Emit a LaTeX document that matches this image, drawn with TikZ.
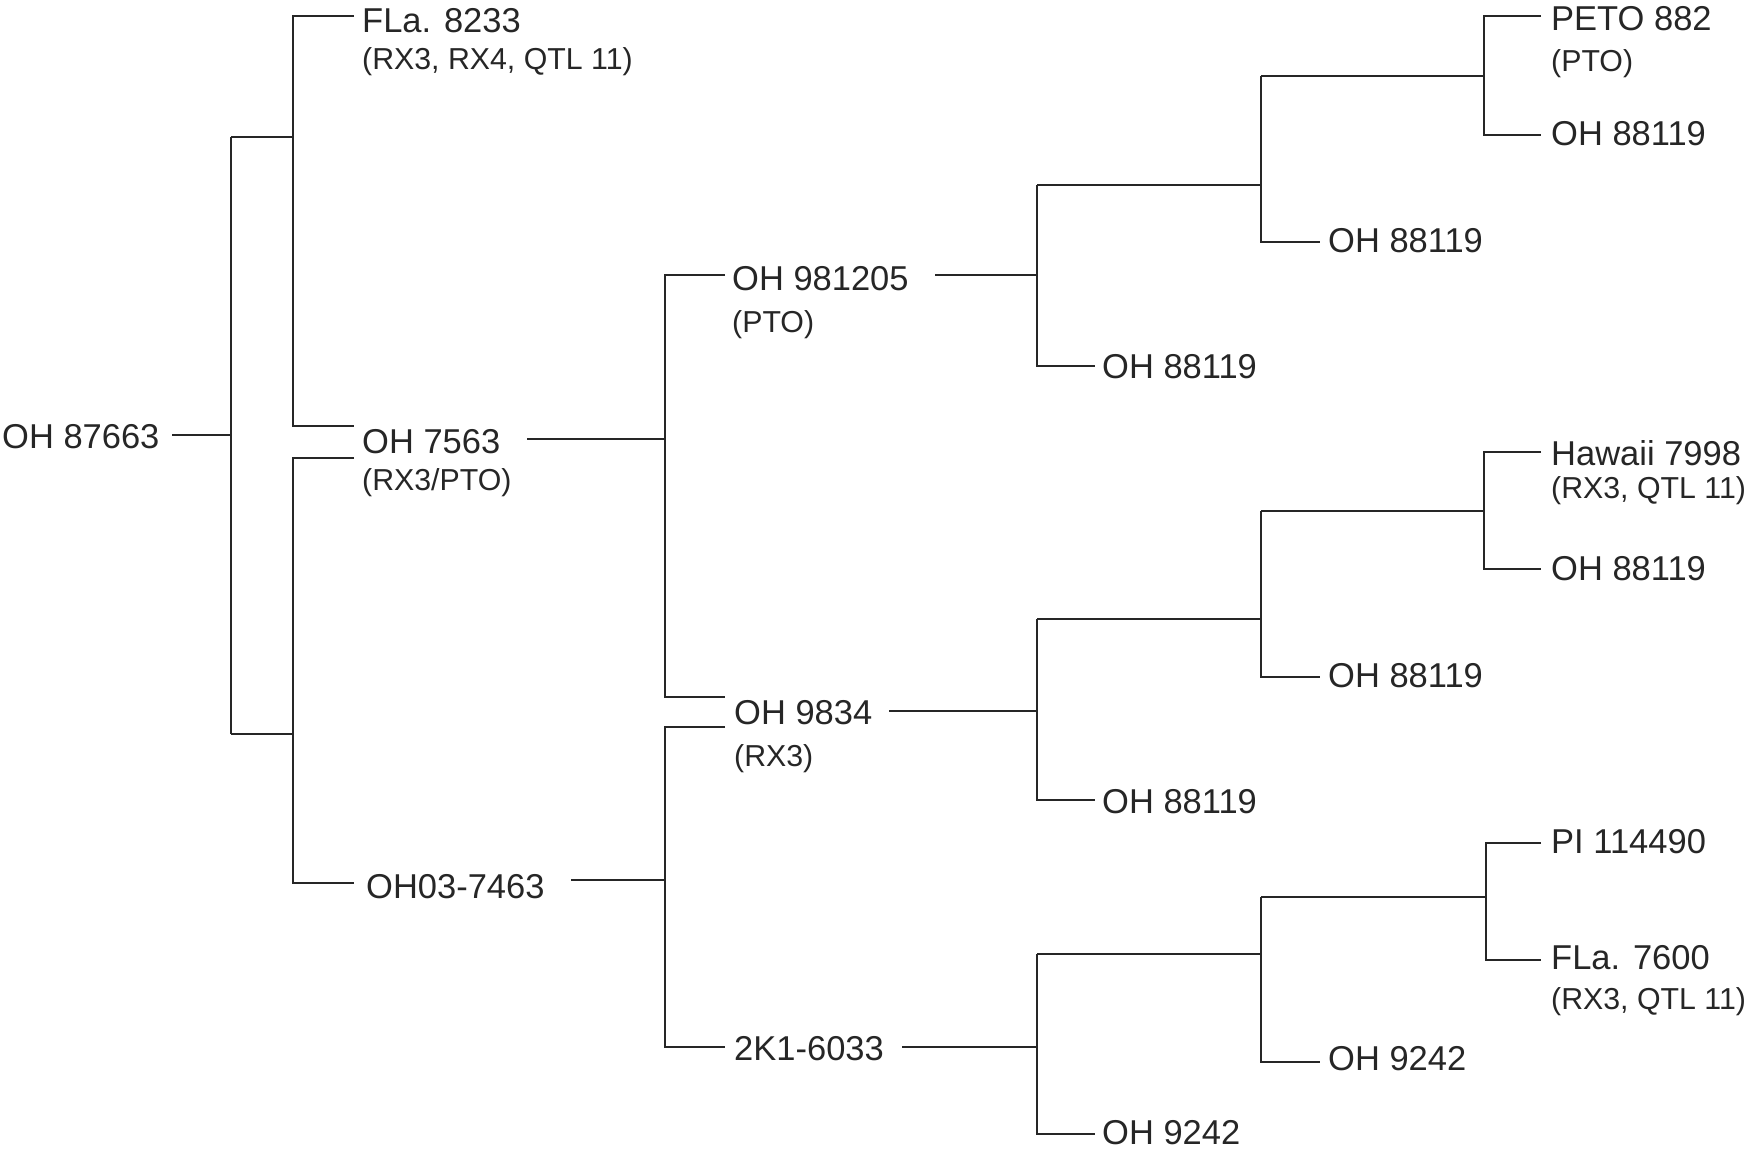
\documentclass[tikz,border=0pt]{standalone}
\usepackage{fontspec}
\setmainfont{Liberation Sans}
\begin{document}
\begin{tikzpicture}[x=1pt,y=-1pt,
  ln/.style={line width=2.4pt, draw=black!85, line join=miter},
  lbl/.style={anchor=west, inner sep=0pt, text=black!85, font=\fontsize{34.5}{40}\selectfont},
  sub/.style={anchor=west, inner sep=0pt, text=black!85, font=\fontsize{30.3}{34}\selectfont}]
\useasboundingbox (0,0) rectangle (1754,1149);

% ---------- labels ----------
\node[lbl] (root) at (2,437) {OH 87663};
\node[lbl] (fla8233) at (362,21) {FLa. 8233};
\node[sub] (fla8233s) at (362,62) {(RX3, RX4, QTL 11)};
\node[lbl] (oh7563) at (362,442) {OH 7563};
\node[sub] (oh7563s) at (362,483) {(RX3/PTO)};
\node[lbl] (oh037463) at (366,887) {OH03-7463};
\node[lbl] (oh981205) at (732,279) {OH 981205};
\node[sub] (oh981205s) at (732,325) {(PTO)};
\node[lbl] (oh9834) at (734,713) {OH 9834};
\node[sub] (oh9834s) at (734,759) {(RX3)};
\node[lbl] (k6033) at (734,1049) {2K1-6033};
\node[lbl] (e1) at (1102,367) {OH 88119};
\node[lbl] (f1) at (1328,241) {OH 88119};
\node[lbl] (peto) at (1551,19) {PETO 882};
\node[sub] (petos) at (1551,64) {(PTO)};
\node[lbl] (g1) at (1551,134) {OH 88119};
\node[lbl] (h1) at (1102,802) {OH 88119};
\node[lbl] (i1) at (1328,676) {OH 88119};
\node[lbl] (haw) at (1551,453) {Hawaii 7998};
\node[sub] (haws) at (1551,491) {(RX3, QTL 11)};
\node[lbl] (j1) at (1551,569) {OH 88119};
\node[lbl] (k1) at (1102,1133) {OH 9242};
\node[lbl] (l1) at (1328,1059) {OH 9242};
\node[lbl] (pi) at (1551,842) {PI 114490};
\node[lbl] (fla7600) at (1551,958) {FLa. 7600};
\node[sub] (fla7600s) at (1551,1002) {(RX3, QTL 11)};

% ---------- coordinates ----------
\coordinate (rootR) at (172,435);
\coordinate (bx0) at (231,435);
\coordinate (ajoin) at (231,137);
\coordinate (bjoin) at (231,734);
\coordinate (sA1) at (354,16);
\coordinate (sA2) at (354,426);
\coordinate (sB1) at (354,458);
\coordinate (sB2) at (354,883);
\coordinate (bxA) at (293,0);
\coordinate (oh7563R) at (527,439);
\coordinate (oh037463R) at (571,880);
\coordinate (bxC) at (665,0);
\coordinate (sC1) at (725,275);
\coordinate (sC2) at (725,697);
\coordinate (sD1) at (725,727);
\coordinate (sD2) at (725,1047);
\coordinate (oh981205R) at (935,275);
\coordinate (oh9834R) at (889,711);
\coordinate (k6033R) at (902,1047);
\coordinate (bxE) at (1037,0);
\coordinate (bxF) at (1261,0);
\coordinate (bxG) at (1484,0);
\coordinate (eTop) at (1037,185);
\coordinate (sE2) at (1095,366);
\coordinate (fTop) at (1261,76);
\coordinate (sF2) at (1320,242);
\coordinate (sG1) at (1541,16);
\coordinate (sG2) at (1541,135);
\coordinate (hTop) at (1037,619);
\coordinate (sH2) at (1095,800);
\coordinate (iTop) at (1261,511);
\coordinate (sI2) at (1320,677);
\coordinate (sJ1) at (1541,452);
\coordinate (sJ2) at (1541,569);
\coordinate (kTop) at (1037,954);
\coordinate (sK2) at (1095,1134);
\coordinate (lTop) at (1261,897);
\coordinate (sL2) at (1320,1062);
\coordinate (sM1) at (1541,843);
\coordinate (sM2) at (1541,960);

% ---------- connectors ----------
\draw[ln] (rootR) -- (bx0);
\draw[ln] (ajoin) -- (bjoin);
\draw[ln] (ajoin) -- (ajoin -| bxA);
\draw[ln] (bjoin) -- (bjoin -| bxA);
\draw[ln] (sA1) -- (sA1 -| bxA) -- (sA2 -| bxA) -- (sA2);
\draw[ln] (sB1) -- (sB1 -| bxA) -- (sB2 -| bxA) -- (sB2);
\draw[ln] (oh7563R) -- (oh7563R -| bxC);
\draw[ln] (oh037463R) -- (oh037463R -| bxC);
\draw[ln] (sC1) -- (sC1 -| bxC) -- (sC2 -| bxC) -- (sC2);
\draw[ln] (sD1) -- (sD1 -| bxC) -- (sD2 -| bxC) -- (sD2);
% OH 981205 subtree
\draw[ln] (oh981205R) -- (oh981205R -| bxE);
\draw[ln] (eTop) -- (sE2 -| bxE) -- (sE2);
\draw[ln] (eTop) -- (eTop -| bxF);
\draw[ln] (fTop) -- (sF2 -| bxF) -- (sF2);
\draw[ln] (fTop) -- (fTop -| bxG);
\draw[ln] (sG1) -- (sG1 -| bxG) -- (sG2 -| bxG) -- (sG2);
% OH 9834 subtree
\draw[ln] (oh9834R) -- (oh9834R -| bxE);
\draw[ln] (hTop) -- (sH2 -| bxE) -- (sH2);
\draw[ln] (hTop) -- (hTop -| bxF);
\draw[ln] (iTop) -- (sI2 -| bxF) -- (sI2);
\draw[ln] (iTop) -- (iTop -| bxG);
\draw[ln] (sJ1) -- (sJ1 -| bxG) -- (sJ2 -| bxG) -- (sJ2);
% 2K1-6033 subtree
\draw[ln] (k6033R) -- (k6033R -| bxE);
\draw[ln] (kTop) -- (sK2 -| bxE) -- (sK2);
\draw[ln] (kTop) -- (kTop -| bxF);
\draw[ln] (lTop) -- (sL2 -| bxF) -- (sL2);
\draw[ln] (lTop) -- ([xshift=2pt]lTop -| bxG);
\draw[ln] (sM1) -- ([xshift=2pt]sM1 -| bxG) -- ([xshift=2pt]sM2 -| bxG) -- (sM2);
\end{tikzpicture}
\end{document}
